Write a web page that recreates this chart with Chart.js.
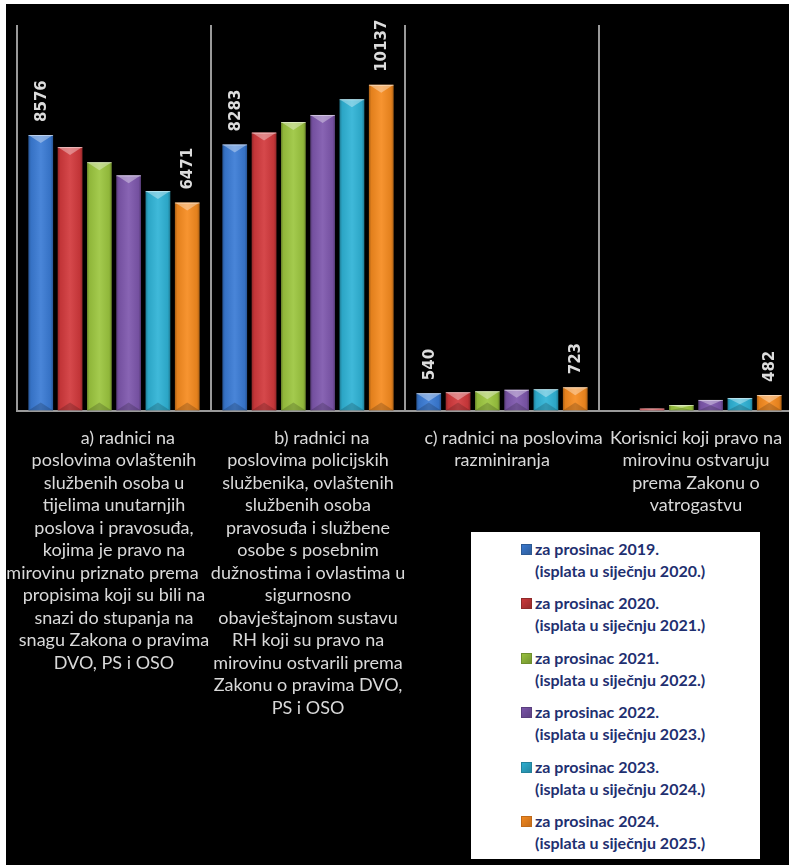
<!DOCTYPE html>
<html><head><meta charset="utf-8">
<script src="https://cdn.jsdelivr.net/npm/chart.js@4.4.1/dist/chart.umd.min.js"></script>
<style>
html,body{margin:0;padding:0;background:#fff;width:789px;height:865px;overflow:hidden;}
#bg{position:absolute;left:6px;top:4px;width:783px;height:861px;background:#000;}
#wrap{position:absolute;left:6px;top:4px;width:800px;height:861px;}
#legend{position:absolute;left:471px;top:532px;width:289px;height:327px;background:#fff;font-family:Lato,sans-serif;font-weight:bold;font-size:16px;color:#1f3070;}
.item{position:absolute;left:50px;line-height:22px;white-space:nowrap;}
.mk{position:absolute;left:0;top:6px;width:11px;height:11px;}
.tx{position:absolute;left:14px;top:0;}
</style></head>
<body>
<div id="bg"></div>
<div id="wrap"><canvas id="c" width="800" height="861"></canvas></div>
<div id="legend"></div>
<script>
const categories = [
  ["      a) radnici na","poslovima ovlaštenih","službenih osoba u","tijelima unutarnjih","poslova i pravosuđa,","kojima je pravo na","mirovinu priznato prema     ","propisima koji su bili na","snazi do stupanja na","snagu Zakona o pravima","DVO, PS i OSO"],
  ["      b) radnici na","poslovima policijskih","službenika, ovlaštenih","službenih osoba","pravosuđa i službene","osobe s posebnim","dužnostima i ovlastima u","sigurnosno","obavještajnom sustavu","RH koji su pravo na","mirovinu ostvarili prema","Zakonu o pravima DVO,","PS i OSO"],
  ["     c) radnici na poslovima","razminiranja"],
  ["Korisnici koji pravo na","mirovinu ostvaruju","prema Zakonu o","vatrogastvu"]
];
const seriesNames = [
  ["za prosinac 2019.","(isplata u siječnju 2020.)"],
  ["za prosinac 2020.","(isplata u siječnju 2021.)"],
  ["za prosinac 2021.","(isplata u siječnju 2022.)"],
  ["za prosinac 2022.","(isplata u siječnju 2023.)"],
  ["za prosinac 2023.","(isplata u siječnju 2024.)"],
  ["za prosinac 2024.","(isplata u siječnju 2025.)"]
];
const dec2019 = [8576, 8283, 540, null];
const dec2020 = [8200, 8650, 570, 60];
const dec2021 = [7730, 8980, 600, 170];
const dec2022 = [7320, 9200, 645, 330];
const dec2023 = [6830, 9690, 665, 390];
const dec2024 = [6471, 10137, 723, 482];
const seriesValues = [dec2019, dec2020, dec2021, dec2022, dec2023, dec2024];
const colors = ['#3a7bd5','#d2393c','#9cc63f','#7e57ad','#2fb3d6','#f68b1f'];
const legendColors = ['#2d5a94','#8f2a2a','#6f8f2e','#5a3f7e','#23829b','#c06a1a'];

const bevel = {
  id:'bevel',
  afterDatasetsDraw(chart){
    const ctx = chart.ctx;
    chart.data.datasets.forEach((ds, di) => {
      const meta = chart.getDatasetMeta(di);
      meta.data.forEach((bar, i) => {
        const v = ds.data[i];
        if (v == null || v <= 0) return;
        const p = bar.getProps(['x','y','base','width'], true);
        const l = p.x - p.width/2, r = p.x + p.width/2, h = p.base - p.y;
        ctx.save();
        const g = ctx.createLinearGradient(l,0,r,0);
        g.addColorStop(0,'rgba(0,0,0,0.30)');
        g.addColorStop(0.1,'rgba(0,0,0,0.08)');
        g.addColorStop(0.5,'rgba(255,255,255,0.08)');
        g.addColorStop(0.9,'rgba(0,0,0,0.08)');
        g.addColorStop(1,'rgba(0,0,0,0.30)');
        ctx.fillStyle = g; ctx.fillRect(l, p.y, p.width, h);
        const d = Math.min(8, h/2);
        ctx.beginPath(); ctx.moveTo(l,p.y); ctx.lineTo(r,p.y); ctx.lineTo(p.x,p.y+d); ctx.closePath();
        ctx.fillStyle='rgba(255,255,255,0.35)'; ctx.fill();
        ctx.beginPath(); ctx.moveTo(l,p.base); ctx.lineTo(r,p.base); ctx.lineTo(p.x,p.base-d); ctx.closePath();
        ctx.fillStyle='rgba(0,0,0,0.18)'; ctx.fill();
        ctx.fillStyle='rgba(255,255,255,0.45)'; ctx.fillRect(l, p.y, p.width, 1);
        ctx.restore();
      });
    });
  }
};

// value labels for first and last series, rotated -90°
const valueLabels = {
  id:'valueLabels',
  afterDatasetsDraw(chart){
    const ctx = chart.ctx;
    const last = chart.data.datasets.length - 1;
    [0, last].forEach(di => {
      const ds = chart.data.datasets[di];
      const meta = chart.getDatasetMeta(di);
      meta.data.forEach((bar, i) => {
        const v = ds.data[i];
        if (v == null || v <= 0) return;
        ctx.save();
        ctx.translate(bar.x + 1, bar.y - 13);
        ctx.rotate(-Math.PI / 2);
        ctx.font = 'bold 15px "DejaVu Sans"';
        ctx.fillStyle = '#dcdcdc';
        ctx.textAlign = 'left';
        ctx.textBaseline = 'middle';
        ctx.fillText(String(v), 0, 0);
        ctx.restore();
      });
    });
  }
};

new Chart(document.getElementById('c'), {
  type:'bar',
  data:{
    labels: categories,
    datasets: seriesValues.map((s,i)=>({
      label: seriesNames[i].join(' '), data: s, backgroundColor: colors[i],
      borderWidth:0, barPercentage:0.84, categoryPercentage:0.906
    }))
  },
  options:{
    responsive:false, animation:false,
    layout:{padding:{left:11, right:13, top:21, bottom:130}},
    plugins:{legend:{display:false}, tooltip:{enabled:false}},
    scales:{
      x:{
        grid:{color:'#9a9a9a', lineWidth:2, drawTicks:false, offset:true},
        border:{color:'#9a9a9a', width:2},
        ticks:{color:'#d9d9d9', font:{family:'Lato', size:18, lineHeight:'22.5px'}, padding:16, maxRotation:0, minRotation:0, autoSkip:false},
        afterFit(scale){ scale.paddingLeft = 0; scale.paddingRight = 0; }
      },
      y:{display:false, min:0, max:12000}
    }
  },
  plugins:[bevel, valueLabels]
});

const lg = document.getElementById('legend');
seriesNames.forEach((n,i)=>{
  const it = document.createElement('div');
  it.className='item';
  it.style.top = (6 + i*54.4) + 'px';
  const mk = document.createElement('div');
  mk.className='mk';
  mk.style.background = 'linear-gradient(135deg,' + colors[i] + ',' + legendColors[i] + ')';
  mk.style.boxShadow = 'inset 0 0 0 1px ' + legendColors[i];
  const tx = document.createElement('div');
  tx.className='tx';
  tx.innerHTML = n[0] + '<br>' + n[1];
  it.appendChild(mk); it.appendChild(tx);
  lg.appendChild(it);
});
</script>
</body></html>
